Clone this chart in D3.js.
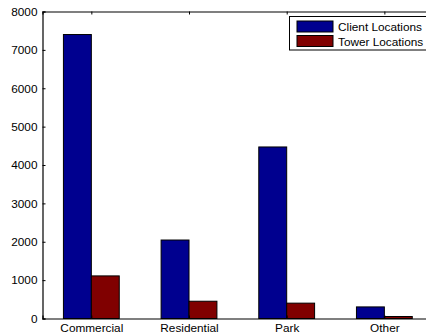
<!DOCTYPE html>
<html>
<head>
<meta charset="utf-8">
<script src="https://cdn.jsdelivr.net/npm/d3@7"></script>
<style>
  html, body { margin: 0; padding: 0; background: #fff; }
  svg { display: block; }
  text { font-family: "Liberation Sans", Arial, Helvetica, sans-serif; }
</style>
</head>
<body>
<div id="chart"></div>
<script>
// Location counts per land-use category
const categories = ["Commercial", "Residential", "Park", "Other"];
const clientLocations = [7400, 2045, 4470, 302];
const towerLocations = [1110, 450, 400, 52];
const seriesNames = ["Client Locations", "Tower Locations"];
const yTicks = [0, 1000, 2000, 3000, 4000, 5000, 6000, 7000, 8000];

const W = 426, H = 335;
const colors = ["#00008f", "#800000"];
const fontSize = 11.8;

const svg = d3.select("#chart").append("svg")
  .attr("width", W).attr("height", H);

// Category positions 1..n, axis spans 0.5..n+0.5 (right edge runs past the frame)
const x = d3.scaleLinear().domain([0.5, categories.length + 0.5]).range([42.5, 433.2]);
const y = d3.scaleLinear().domain([0, 8000]).range([318.5, 11.5]);

// Grouped bars: two series, each bar 2/7 of a category unit
const barW = 2 / 7;
const series = [clientLocations, towerLocations];

series.forEach((vals, s) => {
  svg.append("g").selectAll("rect")
    .data(vals)
    .join("rect")
    .attr("x", (d, i) => x(i + 1 + (s - 1) * barW))
    .attr("width", (d, i) => x(i + 1 + s * barW) - x(i + 1 + (s - 1) * barW))
    .attr("y", d => y(d))
    .attr("height", d => y(0) - y(d))
    .attr("fill", colors[s])
    .attr("stroke", "#000")
    .attr("stroke-width", 1);
});

const catTicks = categories.map((c, i) => i + 1);

// Left axis with inward ticks
const yAxis = svg.append("g")
  .attr("transform", `translate(${x(0.5)},0)`)
  .call(d3.axisLeft(y).tickValues(yTicks).tickSize(-3).tickPadding(5).tickFormat(d3.format("d")));

// Bottom axis with category labels
const xAxis = svg.append("g")
  .attr("transform", `translate(0,${y(0)})`)
  .call(d3.axisBottom(x).tickValues(catTicks).tickSize(-3).tickPadding(5)
    .tickFormat(d => categories[d - 1]));

// Top frame edge with inward ticks
const xTop = svg.append("g")
  .attr("transform", `translate(0,${y(8000)})`)
  .call(d3.axisTop(x).tickValues(catTicks).tickSize(-3).tickFormat(""));

[yAxis, xAxis, xTop].forEach(g => {
  g.select(".domain").attr("stroke", "#000").attr("stroke-width", 1.2);
  g.selectAll(".tick line").attr("stroke", "#000");
  g.selectAll("text").attr("fill", "#000").attr("font-size", fontSize)
    .attr("font-family", "'Liberation Sans', Arial, Helvetica, sans-serif");
});

// Legend box in the top-right corner
const legend = svg.append("g");
legend.append("rect")
  .attr("x", 289.5).attr("y", 16.5).attr("width", 145).attr("height", 33.5)
  .attr("fill", "#fff").attr("stroke", "#000").attr("stroke-width", 1);
seriesNames.forEach((name, i) => {
  const yy = 21 + i * 14.5;
  legend.append("rect")
    .attr("x", 297).attr("y", yy).attr("width", 36).attr("height", 11)
    .attr("fill", colors[i]).attr("stroke", "#000").attr("stroke-width", 1);
  legend.append("text")
    .attr("x", 338).attr("y", yy + 10)
    .attr("font-size", fontSize).attr("fill", "#000")
    .text(name);
});
</script>
</body>
</html>
